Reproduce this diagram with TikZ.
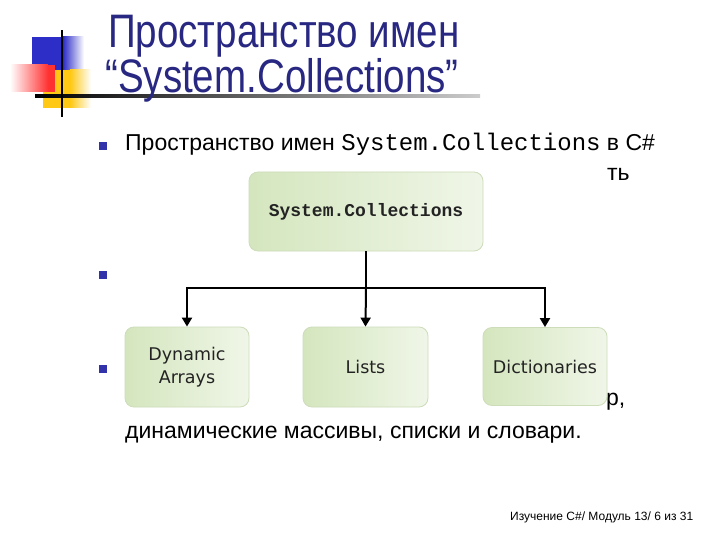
\documentclass[tikz,border=0pt]{standalone}
\usepackage{fontspec}
\setmainfont{Liberation Sans}
\setmonofont{Liberation Mono}
\newfontfamily\dvs{DejaVu Sans}
\usetikzlibrary{arrows.meta}
\definecolor{titleblue}{RGB}{40,40,130}
\definecolor{decoblue}{RGB}{45,45,200}
\definecolor{decored}{RGB}{255,50,50}
\definecolor{decoyellow}{RGB}{255,200,20}
\definecolor{bullblue}{RGB}{50,50,170}
\definecolor{boxleft}{RGB}{212,230,190}
\definecolor{boxright}{RGB}{240,246,232}
\definecolor{boxedge}{RGB}{205,220,185}
\definecolor{boxtext}{RGB}{35,35,35}
\tikzset{
  gbox/.style={draw=boxedge, line width=0.8pt, rounded corners=9pt,
    left color=boxleft, right color=boxright, text=boxtext, align=center,
    inner sep=0pt},
  conn/.style={line width=2pt, black},
  arr/.style={conn, -{Triangle[width=10pt,length=9pt]}},
  bull/.style={fill=bullblue, draw=none, minimum size=8pt, inner sep=0pt},
  bodytxt/.style={anchor=base west, inner sep=0pt, font=\fontsize{23}{28}\selectfont},
  titletxt/.style={anchor=north west, inner sep=0pt, text=titleblue, align=left,
    font=\fontsize{47}{42}\selectfont}
}
\begin{document}
\begin{tikzpicture}[x=1pt,y=-1pt]
\useasboundingbox (0,0) rectangle (720,540);
\fill[white] (0,0) rectangle (720,540);
% decoration
\fill[decoblue] (32,37) rectangle (63,70);
\shade[left color=decoblue, right color=white] (63,37) rectangle (84,70);
\fill[decoyellow] (43,70) rectangle (70,108);
\shade[left color=decoyellow, right color=white] (70,70) rectangle (91,108);
\shade[left color=white, right color=decored] (10,65) rectangle (48,92);
\fill[decored] (48,65) rectangle (55,92);
\shade[left color=black, right color=black!20] (35,94.5) rectangle (480,97.5);
\fill[black] (60.8,30) rectangle (63.2,117);
% title
\node[titletxt] (title) at (105,15.3) {\scalebox{0.82}[1]{\hspace*{3.6pt}Пространство имен}\\\scalebox{0.82}[1]{“System.Collections”}};
% bullets
\node[bull] (b1) at (103,146) {};
\node[bull] (b2) at (103,274.5) {};
\node[bull] (b3) at (103,369) {};
% body text
\node[bodytxt] (l1) at (125,151) {Пространство имен {\fontsize{24}{28}\ttfamily System.Collections} в C\#};
\node[bodytxt] (l2) at (607,181) {ть};
\node[bodytxt] (l3) at (606,405) {р,};
\node[bodytxt] (l4) at (125,438) {динамические массивы, списки и словари.};
% diagram
\node[gbox, minimum width=234pt, minimum height=79pt,
      font=\fontsize{18}{18}\bfseries\ttfamily] (top) at (366,211.5) {System.Collections};
\node[gbox, minimum width=124pt, minimum height=80pt,
      font=\dvs\fontsize{17.5}{23}\selectfont] (da) at (187,367) {Dynamic\\Arrays};
\node[gbox, minimum width=125pt, minimum height=80pt,
      font=\dvs\fontsize{17.5}{23}\selectfont] (li) at (365.5,367) {Lists};
\node[gbox, minimum width=124pt, minimum height=78pt,
      font=\dvs\fontsize{17.5}{23}\selectfont] (di) at (545,366.5) {Dictionaries};
\coordinate (j) at (366,288);
\draw[conn] (top.south) -- (j);
\draw[arr] (j) -| (da.north);
\draw[arr] (j) -| (di.north);
\draw[arr] (j) -- (li.north);
% footer
\node[anchor=base west, inner sep=0pt, font=\fontsize{12}{12}\selectfont] (ft) at (510,520) {Изучение C\#/ Модуль 13/ 6 из 31};
\end{tikzpicture}
\end{document}
